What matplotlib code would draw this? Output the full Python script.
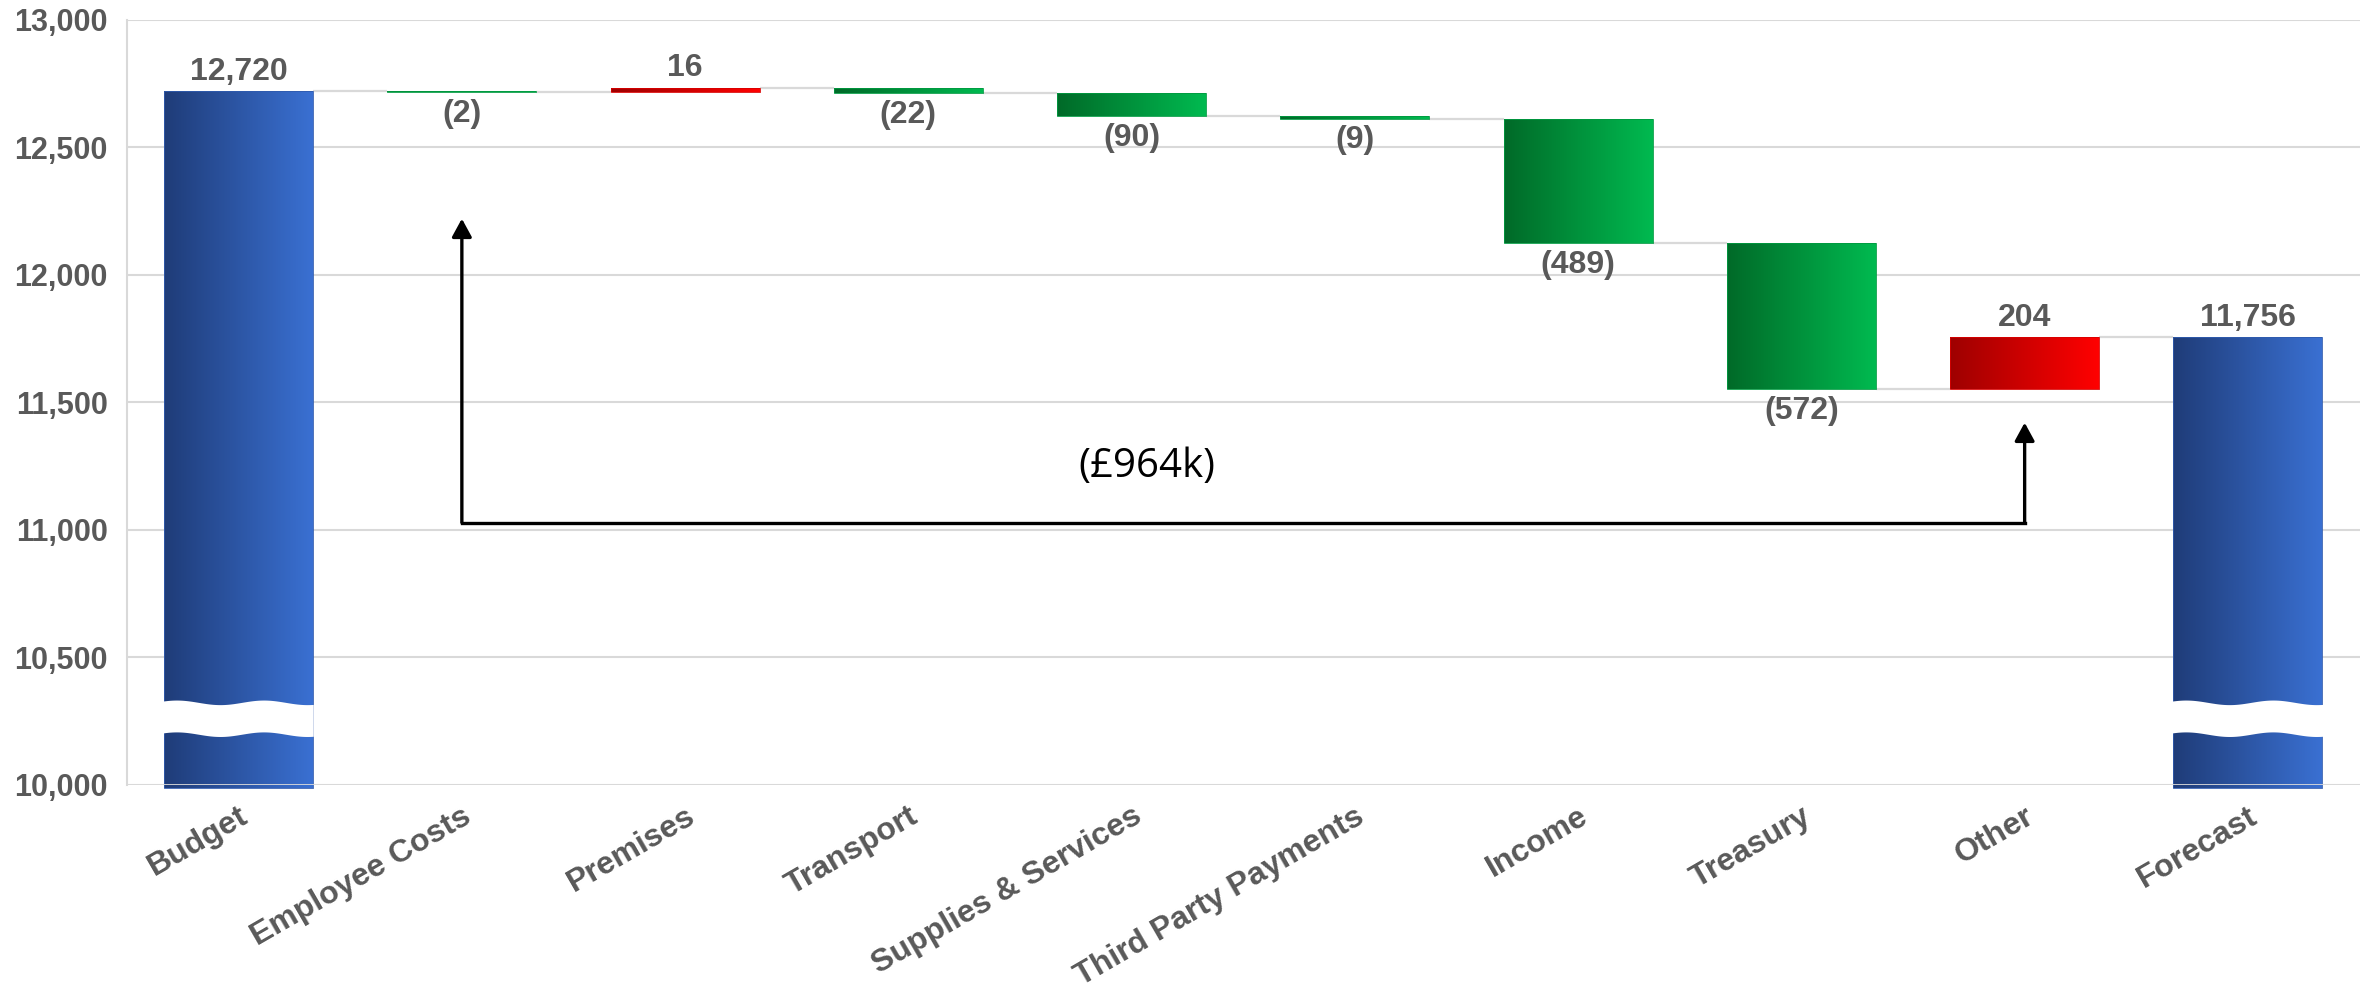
import numpy as np
import matplotlib
matplotlib.use('Agg')
import matplotlib.pyplot as plt
from matplotlib.colors import LinearSegmentedColormap
from matplotlib.patches import Rectangle, Polygon, FancyArrowPatch
from matplotlib.ticker import FuncFormatter, MultipleLocator

# ---------------- data ----------------
categories = ['Budget', 'Employee Costs', 'Premises', 'Transport',
              'Supplies & Services', 'Third Party Payments', 'Income',
              'Treasury', 'Other', 'Forecast']
values = [12720, -2, 16, -22, -90, -9, -489, -572, 204, 11756]
is_total = [True, False, False, False, False, False, False, False, False, True]
variance_label = '(£964k)'
y_min, y_max, y_step = 10000, 13000, 500

# ---------------- style ----------------
plt.rcParams['font.family'] = ['Liberation Sans', 'DejaVu Sans']
GREY = '#595959'
GRID = '#D9D9D9'
cmap_total = LinearSegmentedColormap.from_list('tot', ['#1F3C78', '#3A70D2'])
cmap_down = LinearSegmentedColormap.from_list('down', ['#006A28', '#00BA50'])
cmap_up = LinearSegmentedColormap.from_list('up', ['#9E0000', '#FF0000'])

fig = plt.figure(figsize=(23.69, 9.92), dpi=100)
ax = fig.add_axes([0.0536, 0.209, 0.9424, 0.771])
ax.set_axisbelow(True)

bar_w = 0.667
grad = np.linspace(0, 1, 256).reshape(1, -1)

running = 0
levels = []
for i, (v, tot) in enumerate(zip(values, is_total)):
    if tot:
        bottom, top = y_min - 12, v
        running = v
        cmap = cmap_total
    else:
        start = running
        running = running + v
        bottom, top = min(start, running), max(start, running)
        cmap = cmap_down if v < 0 else cmap_up
    levels.append(running)
    x0, x1 = i - bar_w / 2, i + bar_w / 2
    rect = Rectangle((x0, bottom), bar_w, top - bottom, facecolor='none',
                     edgecolor=cmap(0.6), lw=0.6, zorder=3, clip_on=False)
    ax.add_patch(rect)
    im = ax.imshow(grad, cmap=cmap, extent=[x0, x1, bottom, top],
                   aspect='auto', zorder=2.5, interpolation='bilinear')
    im.set_clip_path(rect)
    # labels
    if tot or v > 0:
        ax.annotate(f'{v:,}', (i, top), xytext=(0, 3), textcoords='offset points',
                    ha='center', va='bottom', fontsize=23, fontweight='bold',
                    color=GREY, zorder=6)
    else:
        ax.annotate(f'({-v:,})', (i, bottom), xytext=(0, -5), textcoords='offset points',
                    ha='center', va='top', fontsize=23, fontweight='bold',
                    color=GREY, zorder=6)
    # axis break on totals
    if tot:
        t = np.linspace(0, 1, 100)
        off = 9 * np.cos(2 * np.pi * (t - 0.67) / 0.58)
        xs = x0 - 0.003 + t * (bar_w + 0.006)
        lo = 10196 + off
        hi = 10321 + off
        poly = np.column_stack([np.concatenate([xs, xs[::-1]]),
                                np.concatenate([lo, hi[::-1]])])
        ax.add_patch(Polygon(poly, closed=True, facecolor='white',
                             edgecolor='none', zorder=4))

# connectors
for i in range(len(values) - 1):
    ax.plot([i + bar_w / 2, i + 1 - bar_w / 2], [levels[i], levels[i]],
            color=GRID, lw=1.6, zorder=2, solid_capstyle='butt')

# variance annotation
x_left, x_right = 1, 8
y_base, y_left_top, y_right_top = 11028, 12220, 11420
ax.plot([x_left, x_right], [y_base, y_base], color='black', lw=2.4, zorder=5,
        solid_capstyle='projecting')
for xx, yt in [(x_left, y_left_top), (x_right, y_right_top)]:
    arr = FancyArrowPatch((xx, y_base), (xx, yt),
                          arrowstyle='-|>,head_length=0.55,head_width=0.3',
                          mutation_scale=20, color='black', lw=2.4,
                          shrinkA=0, shrinkB=0, zorder=5)
    ax.add_patch(arr)
ax.text(4.07, 11247, variance_label, ha='center', va='center', fontsize=29,
        family=['Open Sans', 'DejaVu Sans'], color='black', zorder=6)

# axes
ax.set_xlim(-0.5, len(values) - 0.5)
ax.set_ylim(y_min, y_max)
ax.yaxis.set_major_locator(MultipleLocator(y_step))
ax.yaxis.set_major_formatter(FuncFormatter(lambda v, p: f'{v:,.0f}'))
ax.grid(axis='y', color=GRID, lw=1.5)
ax.axhline(y_min, color=GRID, lw=2, zorder=4.5)
for s in ['top', 'right', 'bottom']:
    ax.spines[s].set_visible(False)
ax.spines['left'].set_color(GRID)
ax.spines['left'].set_linewidth(1.5)
ax.spines['left'].set_zorder(1)
ax.tick_params(axis='y', length=0, pad=14, labelsize=22, labelcolor=GREY)
ax.tick_params(axis='x', length=0, pad=12)
ax.set_xticks(range(len(categories)))
ax.set_xticklabels(categories, rotation=30, ha='right', rotation_mode='anchor',
                   fontsize=23, fontweight='bold', color=GREY)
for lab in ax.get_yticklabels():
    lab.set_fontweight('bold')

fig.savefig('out.png', dpi=100)
